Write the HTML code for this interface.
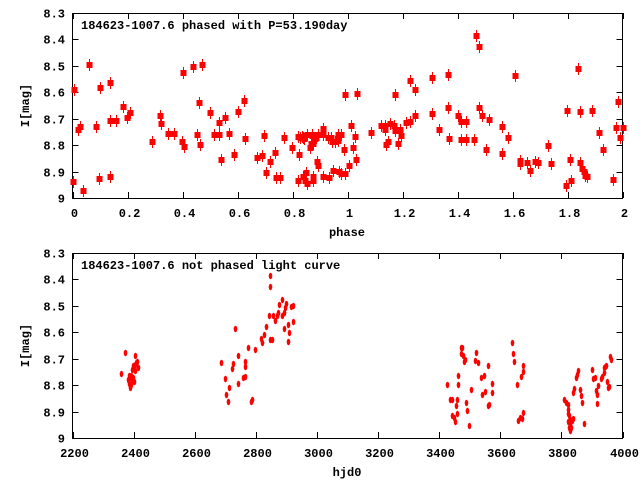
<!DOCTYPE html>
<html><head><meta charset="utf-8"><style>
html,body{margin:0;padding:0;background:#fff;width:640px;height:480px;overflow:hidden}
svg text{font-family:"Liberation Mono","DejaVu Sans Mono",monospace;font-weight:bold;font-size:12px;fill:#000}
</style></head><body>
<svg id="s" width="640" height="480" xmlns="http://www.w3.org/2000/svg">
<rect x="0" y="0" width="640" height="480" fill="#fff"/>
<g id="axes" stroke="#000" stroke-width="1" fill="none"></g>
<g id="pts" fill="#f00" stroke="#f00"></g>
<g id="txt"></g>
</svg>
<script>
var NS="http://www.w3.org/2000/svg";
function el(p,n,a,t){var e=document.createElementNS(NS,n);for(var k in a)e.setAttribute(k,a[k]);if(t!==undefined)e.textContent=t;document.getElementById(p).appendChild(e);return e;}
var L=72.5,R=622.5;
function panel(top,bot,xt,xlab,title,xl){
  el('axes','rect',{x:L,y:top+0.5,width:R-L,height:bot-top});
  for(var i=0;i<=7;i++){var y=Math.round(top+(bot-top)*i/7)+0.5;
    el('axes','line',{x1:L,y1:y,x2:L+6,y2:y});el('axes','line',{x1:R,y1:y,x2:R-6,y2:y});
    var lab=["8.3","8.4","8.5","8.6","8.7","8.8","8.9","9"][i];
    el('txt','text',{x:65,y:y+4,'text-anchor':'end'},lab);}
  var n=xt.length-1;
  for(var j=0;j<=n;j++){var x=Math.round(L+(R-L)*j/n)+0.5;
    el('axes','line',{x1:x,y1:top,x2:x,y2:top+6});el('axes','line',{x1:x,y1:bot,x2:x,y2:bot-6});
    el('txt','text',{x:x+1,y:bot+19,'text-anchor':'middle'},xt[j]);}
  el('txt','text',{x:81,y:top+16},title);
  el('txt','text',{x:347,y:bot+38,'text-anchor':'middle'},xl);
  el('txt','text',{x:0,y:0,'text-anchor':'middle',transform:'translate(29,'+((top+bot)/2)+') rotate(-90)'},"I[mag]");
}
panel(13,198,["0","0.2","0.4","0.6","0.8","1","1.2","1.4","1.6","1.8","2"],"","184623-1007.6 phased with P=53.190day","phase");
panel(253,438,["2200","2400","2600","2800","3000","3200","3400","3600","3800","4000"],"","184623-1007.6 not phased light curve","hjd0");
var A=[[73,182],[74,90],[78,130],[80,127],[83,191],[89,65],[96,127],[99,179],[100,88],[110,177],[110,121],[110,83],[116,121],[123,107],[127,118],[130,113],[152,142],[160,116],[161,124],[168,134],[174,134],[182,142],[184,147],[183,73],[193,67],[197,135],[199,103],[200,145],[202,65],[210,113],[214,135],[219,135],[219,123],[225,118],[221,160],[229,134],[234,155],[244,101],[238,112],[245,139],[257,158],[262,156],[264,136],[270,162],[266,173],[276,178],[280,178],[284,138],[275,153],[292,148],[306,173],[298,181],[299,155],[305,181],[298,137],[300,138],[302,137],[304,139],[313,181],[315,139],[316,138],[311,144],[310,148],[312,136],
[303,138],[303,177],[307,184],[307,135],[312,135],[313,144],[313,177],[318,166],[318,135],[317,162],[323,129],[323,135],[323,177],[328,138],[329,178],[331,138],[332,142],[333,171],[335,142],[338,135],[338,141],[339,172],[341,135],[341,174],[344,150],[345,174],[345,95],[349,166],[351,126],[353,148],[355,137],[356,160],[357,94],[371,133],[381,126],[385,126],[385,130],[386,145],[388,142],[390,124],[394,126],[395,95],[395,131],[398,144],[400,130],[401,136],[406,123],[410,81],[410,122],[415,90],[415,116],[432,78],[432,114],[439,130],[448,75],[448,108],[449,139],[458,116],[461,122],[461,140],[466,122],[466,140],[474,140],[476,36],[479,47],[479,108],[482,116],[486,150],[489,120],[502,127],[502,154],[508,138],[515,76],[520,161],[520,164],[527,163],[530,171],[535,162],[538,163],[548,146],[551,164],[566,186],[567,111],[570,160],[571,181],[578,69],[580,112],[580,163],[582,169],[587,177],[584,172],[585,176],[592,111],[599,133],[603,150],[613,180],[616,128],[620,138],[618,102],[623,128]];
A.forEach(function(p){el('pts','line',{x1:p[0]+0.5,y1:p[1]-6,x2:p[0]+0.5,y2:p[1]+6,'stroke-width':1});
  el('pts','rect',{x:p[0]-2.5,y:p[1]-3,width:6,height:6,stroke:'none'});});
var B=[[121,374],[125,353],[129,376],[128,380],[129,384],[130,378],[131,376],[132,370],[133,378],[134,368],[133,366],[135,371],[135,365],[134,382],[135,356],[137,362],[138,368],[136,363],[130,388],[131,385],[132,381],
[221,363],[225,379],[226,395],[228,402],[229,388],[232,369],[233,364],[235,329],[238,356],[238,384],[243,378],[245,377],[245,362],[245,367],[248,348],[251,402],[252,400],[255,350],[261,339],[262,343],[264,335],[266,327],[269,316],[270,340],[272,340],[273,316],[275,321],[277,316],[278,313],[282,300],[284,313],[284,329],[285,308],[286,304],[288,342],[291,307],[293,322],[293,306],[288,325],[289,333],[270,276],[270,287],[282,316],[279,305],
[447,385],[450,400],[452,400],[452,416],[454,418],[455,422],[456,406],[457,414],[457,400],[458,385],[458,376],[461,348],[462,348],[461,354],[463,356],[464,362],[465,360],[466,403],[467,411],[469,426],[471,390],[475,361],[476,353],[478,363],[481,378],[482,395],[484,376],[485,392],[488,406],[489,405],[488,366],[492,384],[492,393],[512,343],[513,354],[514,362],[517,385],[522,419],[520,418],[518,421],[523,413],[521,377],[523,372],[523,366],[564,400],[566,403],[568,405],[568,414],[568,422],[569,428],[570,420],[570,431],[572,421],[573,419],[573,393],[574,389],[576,378],[577,375],[578,371],[580,390],[581,396],[582,403],[584,424],[592,370],[593,379],[595,378],[596,391],[597,395],[598,386],[597,404],[601,379],[602,377],[604,373],[605,367],[606,366],[604,368],[607,382],[608,388],[609,387],[610,357],[611,360],[568,410],[569,416],[570,425],[571,428]];
B.forEach(function(p){el('pts','ellipse',{cx:p[0]+0.5,cy:p[1],rx:1.8,ry:3.2,stroke:'none'});});
</script>
</body></html>
